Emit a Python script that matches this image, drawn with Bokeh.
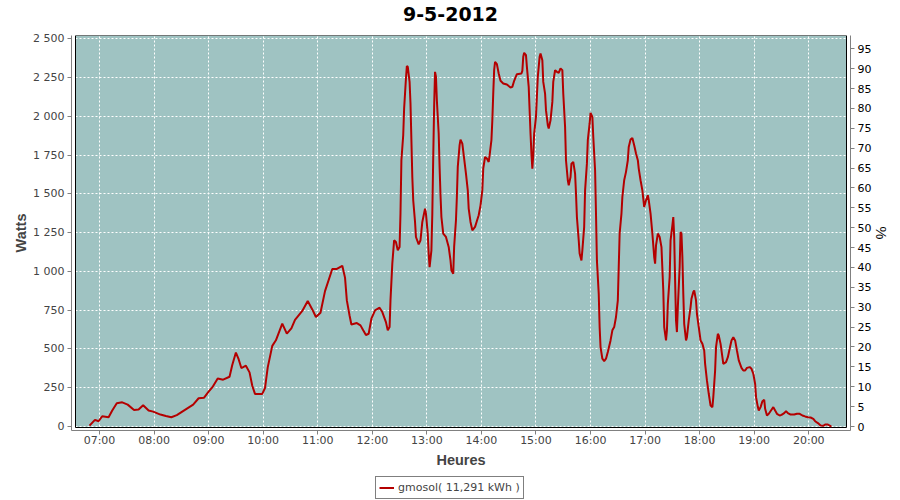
from bokeh.plotting import figure
from bokeh.models import Range1d, LinearAxis, FixedTicker, Legend, LegendItem, Label
from bokeh.layouts import column
from bokeh.embed import file_html
from bokeh.resources import INLINE

# ---------------- data ----------------
title_text = "9-5-2012"
x_label = "Heures"
y_label = "Watts"
y2_label = "%"
series_name = "gmosol( 11,291 kWh )"

hour_ticks = [7, 8, 9, 10, 11, 12, 13, 14, 15, 16, 17, 18, 19, 20]
hour_labels = ["07:00", "08:00", "09:00", "10:00", "11:00", "12:00", "13:00",
               "14:00", "15:00", "16:00", "17:00", "18:00", "19:00", "20:00"]
watt_ticks = [0, 250, 500, 750, 1000, 1250, 1500, 1750, 2000, 2250, 2500]
watt_labels = ["0", "250", "500", "750", "1 000", "1 250", "1 500", "1 750",
               "2 000", "2 250", "2 500"]
pct_ticks = [0, 5, 10, 15, 20, 25, 30, 35, 40, 45, 50, 55, 60, 65, 70, 75, 80,
             85, 90, 95]

times = [
    "06:49", "06:55", "06:59", "07:03", "07:10", "07:14", "07:19", "07:25", "07:31", "07:38",
    "07:43", "07:48", "07:54", "07:59", "08:07", "08:13", "08:19", "08:25", "08:34", "08:43",
    "08:49", "08:55", "09:00", "09:04", "09:10", "09:16", "09:23", "09:26", "09:30", "09:33",
    "09:36", "09:41", "09:45", "09:48", "09:51", "09:59", "10:02", "10:05", "10:10", "10:14",
    "10:21", "10:26", "10:31", "10:35", "10:43", "10:49", "10:54", "10:58", "11:03", "11:08",
    "11:16", "11:21", "11:27", "11:30", "11:32", "11:35", "11:37", "11:43", "11:47", "11:50",
    "11:53", "11:56", "11:59", "12:03", "12:08", "12:11", "12:15", "12:17", "12:19", "12:20",
    "12:22", "12:24", "12:26", "12:28", "12:30", "12:31", "12:32", "12:34", "12:35", "12:37",
    "12:38", "12:39", "12:41", "12:42", "12:43", "12:44", "12:45", "12:47", "12:48", "12:51",
    "12:53", "12:55", "12:58", "12:59", "13:01", "13:02", "13:03", "13:05", "13:06", "13:07",
    "13:08", "13:09", "13:10", "13:11", "13:13", "13:14", "13:15", "13:16", "13:18", "13:21",
    "13:24", "13:26", "13:27", "13:29", "13:30", "13:32", "13:33", "13:34", "13:36", "13:37",
    "13:39", "13:41", "13:43", "13:45", "13:46", "13:48", "13:50", "13:53", "13:55", "13:57",
    "13:59", "14:01", "14:02", "14:04", "14:06", "14:08", "14:09", "14:11", "14:12", "14:13",
    "14:14", "14:15", "14:17", "14:19", "14:21", "14:24", "14:28", "14:32", "14:34", "14:36",
    "14:39", "14:44", "14:45", "14:46", "14:47", "14:49", "14:50", "14:52", "14:53", "14:54",
    "14:55", "14:56", "14:57", "14:58", "15:00", "15:01", "15:02", "15:04", "15:05", "15:07",
    "15:08", "15:10", "15:11", "15:13", "15:14", "15:16", "15:18", "15:19", "15:21", "15:23",
    "15:25", "15:27", "15:29", "15:30", "15:32", "15:33", "15:35", "15:36", "15:38", "15:39",
    "15:41", "15:43", "15:44", "15:45", "15:47", "15:48", "15:50", "15:51", "15:53", "15:54",
    "15:56", "15:57", "15:59", "16:00", "16:02", "16:03", "16:05", "16:06", "16:07", "16:09",
    "16:10", "16:11", "16:13", "16:15", "16:17", "16:19", "16:22", "16:24", "16:26", "16:28",
    "16:30", "16:31", "16:32", "16:34", "16:35", "16:37", "16:39", "16:41", "16:42", "16:44",
    "16:46", "16:48", "16:50", "16:52", "16:53", "16:55", "16:57", "16:59", "17:01", "17:03",
    "17:04", "17:06", "17:08", "17:10", "17:11", "17:12", "17:14", "17:16", "17:18", "17:20",
    "17:21", "17:23", "17:24", "17:25", "17:27", "17:28", "17:30", "17:31", "17:32", "17:33",
    "17:34", "17:35", "17:36", "17:38", "17:39", "17:40", "17:41", "17:42", "17:43", "17:45",
    "17:46", "17:48", "17:50", "17:51", "17:53", "17:54", "17:56", "17:57", "17:59", "18:01",
    "18:03", "18:05", "18:06", "18:08", "18:10", "18:12", "18:14", "18:15", "18:17", "18:18",
    "18:20", "18:21", "18:23", "18:25", "18:26", "18:29", "18:31", "18:33", "18:35", "18:37",
    "18:39", "18:41", "18:43", "18:46", "18:48", "18:50", "18:52", "18:55", "18:57", "18:59",
    "19:01", "19:02", "19:04", "19:05", "19:07", "19:09", "19:11", "19:12", "19:14", "19:16",
    "19:19", "19:21", "19:23", "19:25", "19:28", "19:30", "19:33", "19:35", "19:37", "19:40",
    "19:44", "19:47", "19:50", "19:53", "19:56", "19:59", "20:02", "20:05", "20:07", "20:10",
    "20:13", "20:16", "20:18", "20:21", "20:24", "20:25",
]
watts = [
    6, 43, 34, 66, 60, 103, 150, 156, 141, 107,
    109, 137, 103, 96, 77, 68, 60, 73, 107, 141,
    182, 186, 225, 252, 310, 302, 321, 396, 477, 434,
    377, 392, 349, 263, 210, 210, 248, 381, 520, 556,
    663, 599, 633, 687, 745, 809, 755, 706, 734, 873,
    1016, 1016, 1036, 960, 813, 716, 658, 667, 652, 620,
    590, 598, 695, 749, 766, 738, 673, 620, 641, 813,
    1050, 1201, 1190, 1136, 1158, 1373, 1717, 1878, 2050, 2244,
    2324, 2319, 2222, 2083, 1846, 1609, 1459, 1319, 1222, 1175,
    1201, 1319, 1405, 1373, 1244, 1115, 1028, 1136, 1373, 1738,
    2061, 2287, 2255, 2104, 1889, 1674, 1491, 1351, 1244, 1222,
    1158, 1071, 1007, 985, 1158, 1330, 1480, 1674, 1814, 1850,
    1824, 1728, 1631, 1523, 1405, 1319, 1265, 1287, 1325, 1362,
    1426, 1523, 1663, 1738, 1728, 1706, 1749, 1846, 1975, 2147,
    2298, 2352, 2337, 2276, 2229, 2212, 2205, 2186, 2190, 2229,
    2272, 2276, 2293, 2384, 2410, 2395, 2319, 2190, 2040, 1889,
    1760, 1663, 1749, 1889, 1997, 2126, 2255, 2384, 2405, 2362,
    2222, 2147, 2040, 1943, 1921, 1975, 2093, 2222, 2298, 2287,
    2281, 2309, 2298, 2147, 1932, 1717, 1588, 1556, 1609, 1695,
    1706, 1631, 1502, 1351, 1201, 1115, 1071, 1136, 1287, 1523,
    1695, 1846, 1954, 2022, 1997, 1868, 1652, 1373, 1071, 856,
    641, 512, 437, 422, 437, 480, 555, 620, 641, 706,
    813, 1028, 1244, 1373, 1480, 1588, 1642, 1717, 1803, 1850,
    1861, 1814, 1760, 1717, 1663, 1588, 1523, 1416, 1459, 1491,
    1459, 1373, 1244, 1093, 1050, 1168, 1244, 1222, 1157, 877,
    641, 555, 619, 791, 963, 1200, 1297, 1350, 1221, 942,
    684, 609, 770, 1028, 1254, 1243, 1092, 856, 662, 555,
    576, 684, 770, 824, 867, 877, 813, 727, 641, 555,
    533, 490, 404, 297, 211, 135, 125, 189, 361, 512,
    598, 587, 533, 447, 404, 415, 447, 501, 555, 576,
    555, 490, 426, 378, 361, 361, 378, 383, 372, 340,
    275, 189, 125, 103, 125, 163, 172, 114, 71, 82,
    108, 125, 103, 82, 71, 75, 86, 99, 86, 77,
    77, 82, 82, 71, 65, 60, 58, 49, 34, 22,
    6, 4, 13, 13, 2, 0,
]

# ---------------- layout / style ----------------
W = 900
HEAD_H, H, LEG_H = 25, 447, 28           # title strip, chart, legend strip
FL, FR, FT, FB = 71, 50, 10, 42          # chart frame borders (px)
x0, x1 = 6.4868, 20.7646                  # hours at frame edges
y0, y1 = -25.8, 2521.3                    # watts at frame edges
p0, p1 = -1.006, 98.34                    # percent at frame edges
GAP_X, GAP_B = 4, 3                       # gap between axes and plot box

BG = "#9FC3C2"
RED = "#B40000"
AX = "#808080"
TXT = "#444444"
FONT = "DejaVu Sans"


def to_hours(s):
    h, m = s.split(":")
    return int(h) + int(m) / 60.0


def strip(height):
    f = figure(width=W, height=height, output_backend="svg",
               toolbar_location=None, x_range=Range1d(0, 1),
               y_range=Range1d(0, 1), x_axis_location=None,
               y_axis_location=None, min_border=0,
               background_fill_color="white", border_fill_color="white",
               outline_line_color=None)
    f.xgrid.visible = False
    f.ygrid.visible = False
    return f


xs = [to_hours(t) for t in times]

# ---- title strip ----
ph = strip(HEAD_H)
ph.add_layout(Label(x=379, y=12, x_units="screen", y_units="screen",
                    text=title_text, text_align="center",
                    text_baseline="middle", text_font=FONT,
                    text_font_size="19px", text_font_style="bold",
                    text_color="black"))

# ---- chart ----
p = figure(width=W, height=H, output_backend="svg", toolbar_location=None,
           x_range=Range1d(x0, x1), y_range=Range1d(y0, y1),
           min_border_left=FL, min_border_right=FR, min_border_top=FT,
           min_border_bottom=FB, background_fill_color="white",
           border_fill_color="white", outline_line_color=None)

fw = W - FL - FR
fh = H - FT - FB
bx0 = x0 + GAP_X * (x1 - x0) / fw
bx1 = x1 - GAP_X * (x1 - x0) / fw
by0 = y0 + GAP_B * (y1 - y0) / fh

# plot box background + outline
p.quad(left=[bx0], right=[bx1], bottom=[by0], top=[y1], fill_color=BG,
       line_color=None, level="image")
p.quad(left=[bx0], right=[bx1], bottom=[by0], top=[y1], fill_color=None,
       line_color="black", line_width=1)

p.line(xs, watts, line_color=RED, line_width=2)

# grids
p.xgrid.ticker = FixedTicker(ticks=hour_ticks)
p.ygrid.ticker = FixedTicker(ticks=watt_ticks)
for g in (p.xgrid, p.ygrid):
    g.grid_line_color = "white"
    g.grid_line_dash = "2 2"
    g.grid_line_width = 1

# axes
xa = p.xaxis[0]
xa.ticker = FixedTicker(ticks=hour_ticks)
xa.major_label_overrides = dict(zip(hour_ticks, hour_labels))
xa.axis_label = x_label

ya = p.yaxis[0]
ya.ticker = FixedTicker(ticks=watt_ticks)
ya.major_label_overrides = dict(zip(watt_ticks, watt_labels))
ya.axis_label = y_label

p.extra_y_ranges = {"pct": Range1d(p0, p1)}
ra = LinearAxis(y_range_name="pct", ticker=FixedTicker(ticks=pct_ticks),
                axis_label=y2_label)
p.add_layout(ra, "right")

for a in (xa, ya, ra):
    a.axis_line_color = AX
    a.major_tick_line_color = AX
    a.major_tick_out = 4
    a.major_tick_in = 0
    a.minor_tick_line_color = None
    a.major_label_text_font = FONT
    a.major_label_text_font_size = "11px"
    a.major_label_text_color = TXT
    a.major_label_standoff = 3
    a.axis_label_text_font = "Liberation Sans"
    a.axis_label_text_font_size = "14.5px"
    a.axis_label_text_font_style = "bold"
    a.axis_label_text_color = TXT
xa.major_label_standoff = -1
xa.axis_label_standoff = 2
ya.axis_label_standoff = 1
ra.axis_label_standoff = -1
ra.major_label_text_color = "black"
ra.axis_label_text_color = "black"
ra.axis_label_text_font_style = "normal"

# ---- legend strip (its frame is aligned with the chart's frame) ----
pl = strip(LEG_H)
# sample renderer for the legend swatch, kept outside the visible range
leg_line = pl.line(x=[5, 6], y=[5, 6], line_color=RED, line_width=2)
legend = Legend(items=[LegendItem(label=series_name, renderers=[leg_line])],
                location=(304, 1), orientation="horizontal",
                border_line_color="black", border_line_width=1,
                background_fill_color="white", background_fill_alpha=1,
                label_text_font=FONT, label_text_font_size="11px",
                label_text_color=TXT, glyph_width=15, glyph_height=15,
                label_height=15, label_standoff=4, padding=3, spacing=0,
                margin=0)
pl.add_layout(legend, "center")

open("out.html", "w").write(file_html(column(ph, p, pl, spacing=0), INLINE))
